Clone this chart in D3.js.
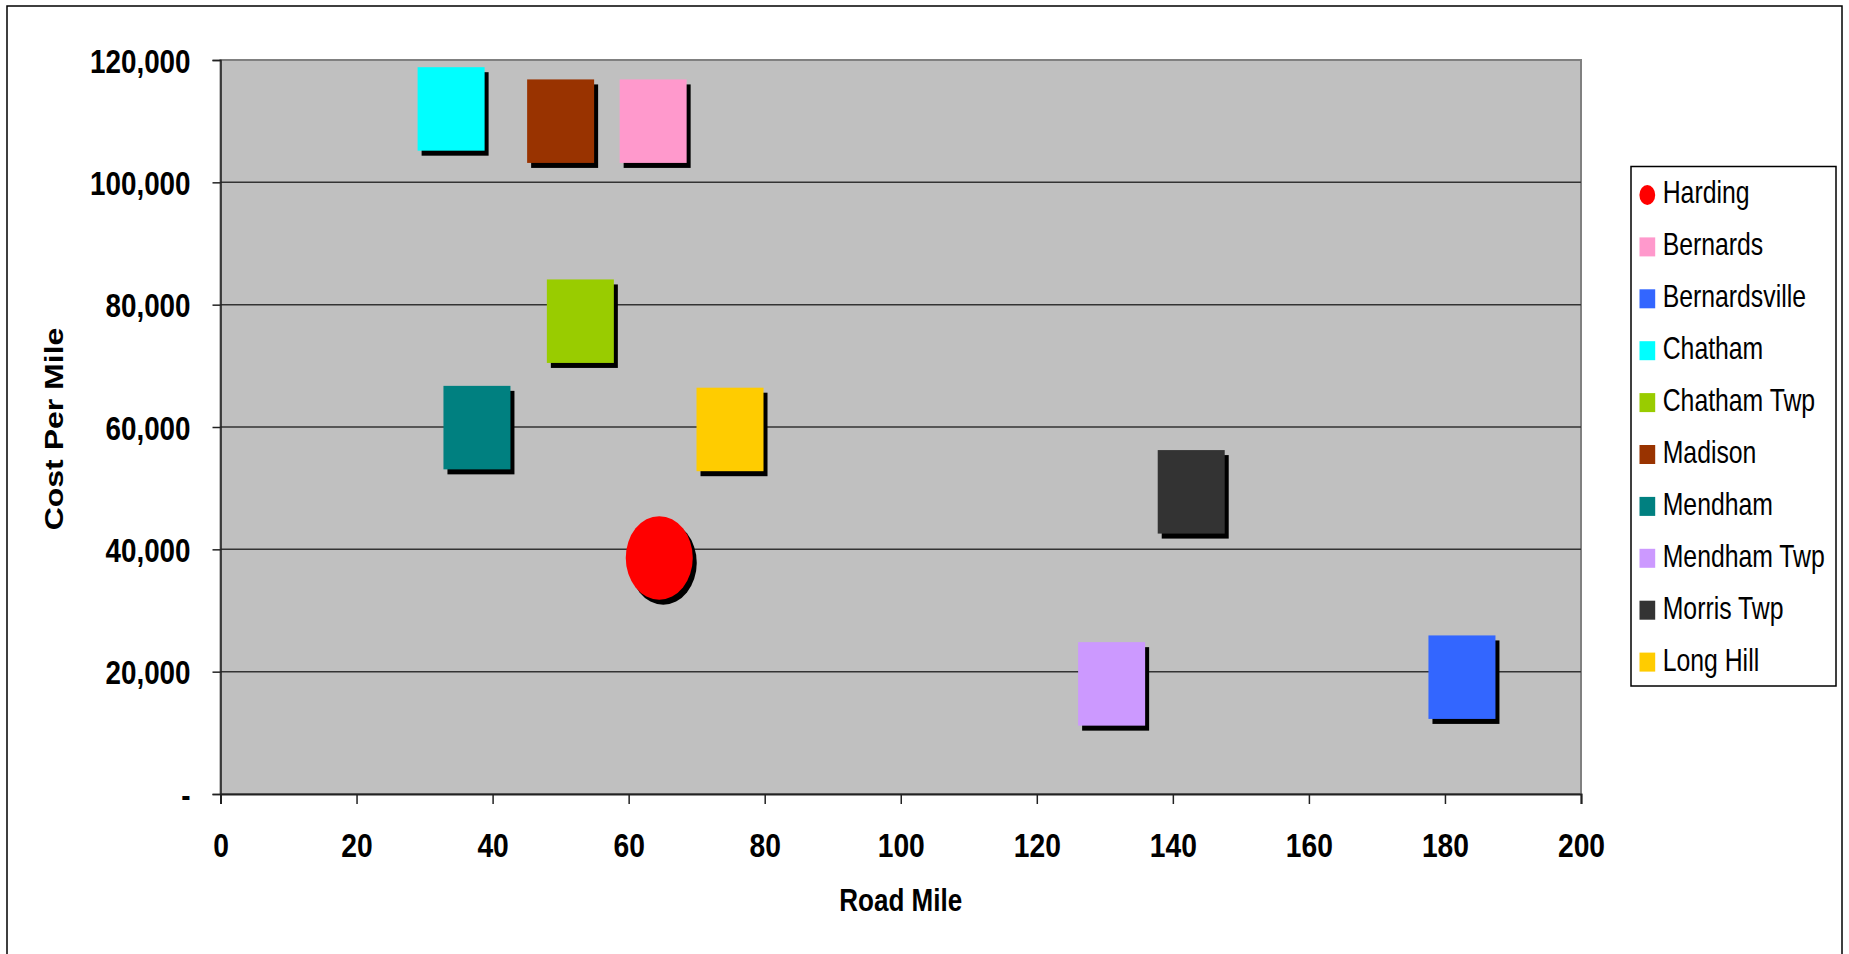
<!DOCTYPE html>
<html>
<head>
<meta charset="utf-8">
<script src="https://cdn.jsdelivr.net/npm/d3@7"></script>
<style>
  html, body { margin: 0; padding: 0; background: #ffffff; }
  svg { display: block; }
</style>
</head>
<body>
<svg id="chart" width="1849" height="954"></svg>
<script>
// ---- data ----
const townNames = ["Harding", "Bernards", "Bernardsville", "Chatham", "Chatham Twp", "Madison", "Mendham", "Mendham Twp", "Morris Twp", "Long Hill"];
const roadMiles = [64.5, 63.6, 182.5, 33.9, 52.9, 50.0, 37.7, 131.0, 142.7, 74.9];
const costPerMile = [38600, 110000, 19100, 112000, 77300, 110000, 59900, 18000, 49400, 59600];
const townColors = ["#FF0000", "#FF99CC", "#3366FF", "#00FFFF", "#99CC00", "#993300", "#008080", "#CC99FF", "#333333", "#FFCC00"];
const townShapes = ["circle", "square", "square", "square", "square", "square", "square", "square", "square", "square"];
const xTickValues = [0, 20, 40, 60, 80, 100, 120, 140, 160, 180, 200];
const yTickValues = [0, 20000, 40000, 60000, 80000, 100000, 120000];
const xTitle = "Road Mile";
const yTitle = "Cost Per Mile";

const data = townNames.map((n, i) => ({ name: n, x: roadMiles[i], y: costPerMile[i], color: townColors[i], shape: townShapes[i] }));

// ---- layout ----
const FONT = "'Liberation Sans', Arial, Helvetica, sans-serif";
const SX = 0.83;              // horizontal compression of the reference rendering
const plot = { left: 220.5, right: 1581, top: 60, bottom: 794 };
const markW = 67, markH = 83.5, shadowDx = 4, shadowDy = 5;

const svg = d3.select("#chart");

// outer chart border
svg.append("rect")
  .attr("x", 7).attr("y", 6).attr("width", 1835).attr("height", 980)
  .attr("fill", "#ffffff").attr("stroke", "#000").attr("stroke-width", 1.5);

const x = d3.scaleLinear().domain([0, 200]).range([plot.left, plot.right]);
const y = d3.scaleLinear().domain([0, 120000]).range([plot.bottom, plot.top]);

// plot background
svg.append("rect")
  .attr("x", plot.left).attr("y", plot.top)
  .attr("width", plot.right - plot.left).attr("height", plot.bottom - plot.top)
  .attr("fill", "#C0C0C0").attr("stroke", "#808080").attr("stroke-width", 2);

// gridlines
svg.append("g").selectAll("line")
  .data(yTickValues.filter(v => v > 0 && v < 120000))
  .join("line")
  .attr("x1", plot.left).attr("x2", plot.right)
  .attr("y1", d => y(d)).attr("y2", d => y(d))
  .attr("stroke", "#333").attr("stroke-width", 1.5);

// markers
const marks = svg.append("g");
data.forEach(d => {
  const cx = x(d.x), cy = y(d.y);
  if (d.shape === "circle") {
    marks.append("ellipse").attr("cx", cx + shadowDx).attr("cy", cy + shadowDy)
      .attr("rx", markW / 2).attr("ry", markH / 2).attr("fill", "#000");
    marks.append("ellipse").attr("cx", cx).attr("cy", cy)
      .attr("rx", markW / 2).attr("ry", markH / 2).attr("fill", d.color);
  } else {
    marks.append("rect").attr("x", cx - markW / 2 + shadowDx).attr("y", cy - markH / 2 + shadowDy)
      .attr("width", markW).attr("height", markH).attr("fill", "#000");
    marks.append("rect").attr("x", cx - markW / 2).attr("y", cy - markH / 2)
      .attr("width", markW).attr("height", markH).attr("fill", d.color);
  }
});

// y axis
const yAxis = d3.axisLeft(y).tickValues(yTickValues).tickSize(8)
  .tickFormat(v => v === 0 ? "-" : d3.format(",")(v));
svg.append("g")
  .attr("transform", `translate(${plot.left},0)`)
  .call(yAxis)
  .call(g => g.attr("font-family", FONT).attr("font-size", 33.5).attr("font-weight", "bold"))
  .call(g => g.select(".domain").attr("stroke", "#222").attr("stroke-width", 1.5))
  .call(g => g.selectAll(".tick line").attr("stroke", "#222").attr("stroke-width", 1.5))
  .call(g => g.selectAll(".tick text")
    .attr("x", 0).attr("dy", "0.36em").attr("fill", "#000")
    .attr("text-anchor", "end")
    .attr("transform", `translate(-30,0) scale(${SX},1)`));

// x axis
const xAxis = d3.axisBottom(x).tickValues(xTickValues).tickSize(10).tickFormat(d3.format("d"));
svg.append("g")
  .attr("transform", `translate(0,${plot.bottom})`)
  .call(xAxis)
  .call(g => g.attr("font-family", FONT).attr("font-size", 34).attr("font-weight", "bold"))
  .call(g => g.select(".domain").attr("stroke", "#222").attr("stroke-width", 2))
  .call(g => g.selectAll(".tick line").attr("stroke", "#222").attr("stroke-width", 1.5))
  .call(g => g.selectAll(".tick text")
    .attr("y", 0).attr("dy", 0).attr("fill", "#000")
    .attr("transform", `translate(0,62.7) scale(${SX},1)`));

// axis titles
svg.append("text")
  .attr("transform", `translate(${(plot.left + plot.right) / 2},910.7) scale(0.84,1)`)
  .attr("text-anchor", "middle")
  .attr("font-family", FONT).attr("font-size", 31).attr("font-weight", "bold")
  .text(xTitle);

svg.append("text")
  .attr("transform", `translate(63.3,429) scale(${SX},1) rotate(-90)`)
  .attr("text-anchor", "middle")
  .attr("font-family", FONT).attr("font-size", 32).attr("font-weight", "bold")
  .text(yTitle);

// legend
const legend = { x: 1631, y: 166.5, w: 205, h: 519.5, first: 195, step: 51.9 };
svg.append("rect")
  .attr("x", legend.x).attr("y", legend.y).attr("width", legend.w).attr("height", legend.h)
  .attr("fill", "#fff").attr("stroke", "#000").attr("stroke-width", 1.5);

const items = svg.append("g").selectAll("g")
  .data(data)
  .join("g")
  .attr("transform", (d, i) => `translate(0,${legend.first + i * legend.step})`);

items.each(function (d) {
  const g = d3.select(this);
  if (d.shape === "circle") {
    g.append("ellipse").attr("cx", 1647.3).attr("cy", 0).attr("rx", 7.9).attr("ry", 10).attr("fill", d.color);
  } else {
    g.append("rect").attr("x", 1639.5).attr("y", -9.5).attr("width", 15.7).attr("height", 19).attr("fill", d.color);
  }
  g.append("text")
    .attr("transform", `translate(1662.7,8.4) scale(0.775,1)`)
    .attr("font-family", FONT).attr("font-size", 32)
    .attr("fill", "#000")
    .text(d.name);
});
</script>
</body>
</html>
